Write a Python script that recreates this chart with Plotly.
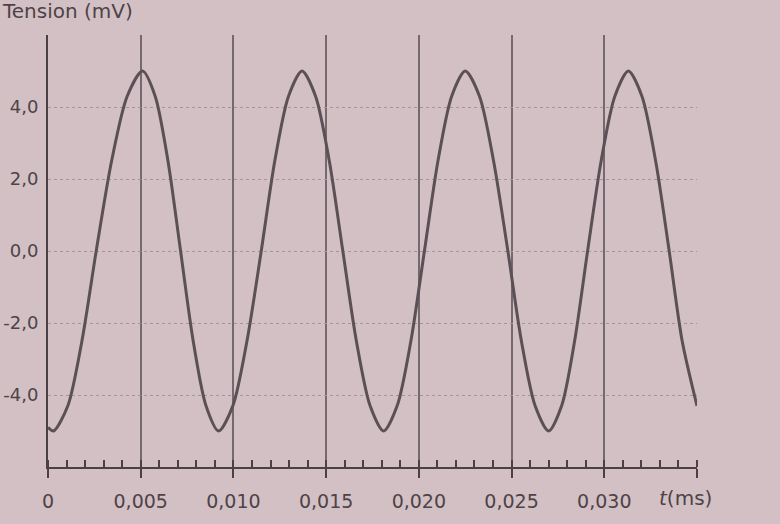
import plotly.graph_objects as go

# Values (time in ms, tension in mV)
t_ms = [0.0, 0.0003, 0.00107, 0.00183, 0.0026, 0.00343, 0.00427, 0.0051,
        0.00578, 0.00647, 0.00715, 0.00783, 0.00852, 0.0092,
        0.00997, 0.01073, 0.0115, 0.01223, 0.01297, 0.0137,
        0.01443, 0.01517, 0.0159, 0.01663, 0.01737, 0.0181,
        0.01883, 0.01957, 0.0203, 0.02103, 0.02177, 0.0225,
        0.02327, 0.02403, 0.0248, 0.02553, 0.02627, 0.0270,
        0.0277, 0.0284, 0.0291, 0.02983, 0.03057, 0.0313,
        0.03203, 0.03277, 0.0335, 0.0342, 0.0350]
tension_mv = [-4.9, -5.0, -4.3, -2.5, 0.0, 2.5, 4.3, 5.0,
              4.3, 2.5, 0.0, -2.5, -4.3, -5.0,
              -4.3, -2.5, 0.0, 2.5, 4.3, 5.0,
              4.3, 2.5, 0.0, -2.5, -4.3, -5.0,
              -4.3, -2.5, 0.0, 2.5, 4.3, 5.0,
              4.3, 2.5, 0.0, -2.5, -4.3, -5.0,
              -4.3, -2.5, 0.0, 2.5, 4.3, 5.0,
              4.3, 2.5, 0.0, -2.5, -4.3]

x_tickvals = [0, 0.005, 0.010, 0.015, 0.020, 0.025, 0.030, 0.035]
x_ticktext = ["0", "0,005", "0,010", "0,015", "0,020", "0,025", "0,030", ""]
y_tickvals = [-4, -2, 0, 2, 4, 6]
y_ticktext = ["-4,0", "-2,0", "0,0", "2,0", "4,0", ""]

PAPER = "#d3c0c4"
INK = "#4d4348"
FONT = "DejaVu Sans"

L, R, T, B = 48, 83, 35, 57
PW, PH = 780 - L - R, 524 - T - B

fig = go.Figure()
fig.add_trace(go.Scatter(
    x=t_ms, y=tension_mv, mode="lines",
    line=dict(color="#5b5056", width=3, shape="spline", smoothing=0.8),
    showlegend=False, hoverinfo="skip",
))

fig.update_layout(
    width=780, height=524,
    paper_bgcolor=PAPER, plot_bgcolor=PAPER,
    margin=dict(l=L, r=R, t=T, b=B, autoexpand=False),
    font=dict(family=FONT, size=18, color=INK),
    annotations=[
        dict(text="Tension (mV)", xref="paper", yref="paper",
             x=-(L - 0) / PW, y=1 + (T - 11) / PH,
             xanchor="left", yanchor="middle", showarrow=False,
             font=dict(family=FONT, size=20, color=INK)),
        dict(text="<i>t</i>(ms)", xref="paper", yref="paper",
             x=(657 - L) / PW, y=-(498 - (524 - B)) / PH,
             xanchor="left", yanchor="middle", showarrow=False,
             font=dict(family=FONT, size=20, color=INK)),
    ],
)

fig.update_xaxes(
    range=[0, 0.035], tickvals=x_tickvals, ticktext=x_ticktext,
    tickfont=dict(family=FONT, size=19, color=INK),
    showgrid=True, gridcolor="#74696e", gridwidth=1.5,
    showline=True, linecolor="#4a4045", linewidth=2,
    ticks="outside", ticklen=9, tickwidth=2, tickcolor="#4a4045",
    ticklabelstandoff=7,
    minor=dict(dtick=0.001, tick0=0, ticks="inside", ticklen=7, tickwidth=1.5,
               tickcolor="#4a4045", showgrid=False),
    zeroline=False,
)
fig.update_yaxes(
    range=[-6, 6], tickvals=y_tickvals, ticktext=y_ticktext,
    tickfont=dict(family=FONT, size=18, color=INK),
    showgrid=True, gridcolor="#a79499", gridwidth=1, griddash="dot",
    showline=True, linecolor="#4a4045", linewidth=2,
    ticks="", ticklabelstandoff=4,
    zeroline=False,
)

fig.write_html(
    "out.html",
    config={"displayModeBar": False},
    post_script="document.body.style.margin='0';document.body.style.background='%s';" % PAPER,
)
